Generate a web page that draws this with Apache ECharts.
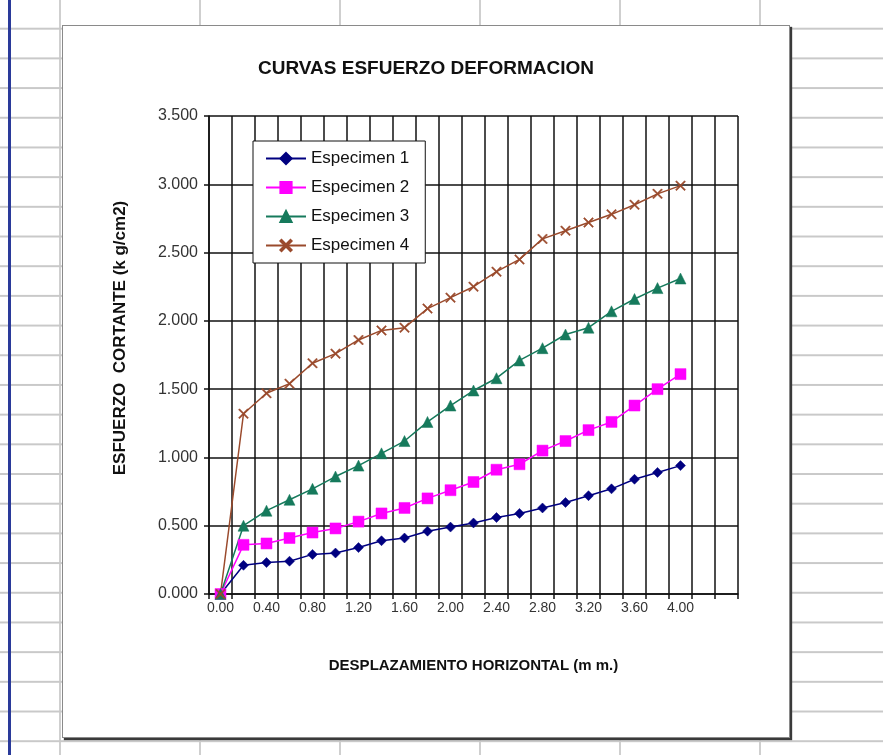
<!DOCTYPE html>
<html>
<head>
<meta charset="utf-8">
<script src="https://cdn.jsdelivr.net/npm/echarts@6/dist/echarts.min.js"></script>
<style>
  html, body { margin: 0; padding: 0; }
  body {
    width: 883px; height: 755px; position: relative; overflow: hidden;
    background-color: #fff;
    background-image:
      repeating-linear-gradient(to bottom, transparent 0px, transparent 28px, #c9c9c9 28px, #c9c9c9 30px),
      repeating-linear-gradient(to right, #cfcfcf 0px, #cfcfcf 2px, transparent 2px, transparent 140px);
    background-size: 883px 29.7px, 140px 755px;
    background-position: 0 0, 59px 0;
  }
  #bar { position: absolute; left: 8px; top: 0; width: 3px; height: 755px; background: #2a3a9a; }
  #chart {
    position: absolute; left: 62px; top: 25px; width: 728px; height: 713px;
    background: #fff; border: 1px solid #8a8a8a; box-sizing: border-box;
    box-shadow: 2px 2px 1px #3a3a3a;
  }
</style>
</head>
<body>
<div id="bar"></div>
<div id="chart"></div>
<script>
// Horizontal displacement (mm); the two trailing blank slots leave room past 4.00
const desplazamiento = ['0.00','0.20','0.40','0.60','0.80','1.00','1.20','1.40','1.60','1.80','2.00',
  '2.20','2.40','2.60','2.80','3.00','3.20','3.40','3.60','3.80','4.00','',' '];

// Shear stress (kg/cm2) for each specimen
const especimen1 = [0, 0.21, 0.23, 0.24, 0.29, 0.30, 0.34, 0.39, 0.41, 0.46, 0.49, 0.52, 0.56, 0.59, 0.63, 0.67, 0.72, 0.77, 0.84, 0.89, 0.94];
const especimen2 = [0, 0.36, 0.37, 0.41, 0.45, 0.48, 0.53, 0.59, 0.63, 0.70, 0.76, 0.82, 0.91, 0.95, 1.05, 1.12, 1.20, 1.26, 1.38, 1.50, 1.61];
const especimen3 = [0, 0.50, 0.61, 0.69, 0.77, 0.86, 0.94, 1.03, 1.12, 1.26, 1.38, 1.49, 1.58, 1.71, 1.80, 1.90, 1.95, 2.07, 2.16, 2.24, 2.31];
const especimen4 = [0, 1.32, 1.47, 1.54, 1.69, 1.76, 1.86, 1.93, 1.95, 2.09, 2.17, 2.25, 2.36, 2.45, 2.60, 2.66, 2.72, 2.78, 2.85, 2.93, 2.99];

const seriesNames = ['Especimen 1', 'Especimen 2', 'Especimen 3', 'Especimen 4'];

const FONT = "'Liberation Sans', Arial, sans-serif";
const crossPath = 'path://M0,1 L1,0 L5,4 L9,0 L10,1 L6,5 L10,9 L9,10 L5,6 L1,10 L0,9 L4,5 Z';

function lineSeries(name, data, color, symbol, size) {
  return {
    name: name, type: 'line', data: data,
    symbol: symbol, symbolSize: size, showSymbol: true,
    lineStyle: { color: color, width: 1.5 },
    itemStyle: { color: color, borderColor: color, borderWidth: 0.5 },
    emphasis: { disabled: true },
    animation: false
  };
}

const chart = echarts.init(document.getElementById('chart'), null, { renderer: 'canvas' });
chart.setOption({
  backgroundColor: 'transparent',
  animation: false,
  textStyle: { fontFamily: FONT },
  title: {
    text: 'CURVAS ESFUERZO DEFORMACION',
    left: 'center', top: 33, padding: 0,
    textStyle: { fontFamily: FONT, fontSize: 19, fontWeight: 'bold', color: '#111' }
  },
  legend: {
    data: seriesNames,
    orient: 'vertical',
    left: 190, top: 115,
    padding: [9, 16, 9, 12],
    itemGap: 12, itemWidth: 40, itemHeight: 14,
    backgroundColor: '#fff', borderColor: '#111', borderWidth: 1, borderRadius: 0,
    textStyle: { fontFamily: FONT, fontSize: 17, color: '#111' }
  },
  grid: { left: 146, top: 90, width: 529, height: 478, containLabel: false },
  xAxis: {
    type: 'category',
    data: desplazamiento,
    boundaryGap: true,
    name: 'DESPLAZAMIENTO HORIZONTAL (m m.)',
    nameLocation: 'middle', nameGap: 64,
    nameTextStyle: { fontFamily: FONT, fontSize: 15, fontWeight: 'bold', color: '#111' },
    axisLine: { lineStyle: { color: '#111', width: 1.5 } },
    axisTick: { show: true, interval: 0, length: 5, inside: false, lineStyle: { color: '#111', width: 1.5 } },
    axisLabel: { interval: 1, fontSize: 14, color: '#333', margin: 7 },
    splitLine: { show: true, interval: 0, lineStyle: { color: '#111', width: 1.5 } }
  },
  yAxis: {
    type: 'value',
    min: 0, max: 3.5, interval: 0.5,
    name: 'ESFUERZO  CORTANTE (k g/cm2)',
    nameLocation: 'middle', nameGap: 80, nameRotate: 90,
    nameTextStyle: { fontFamily: FONT, fontSize: 17, fontWeight: 'bold', color: '#111', padding: [0, 0, 0, 34] },
    axisLine: { show: true, lineStyle: { color: '#111', width: 1.5 } },
    axisTick: { show: true, length: 5, inside: false, lineStyle: { color: '#111', width: 1.5 } },
    axisLabel: { fontSize: 16, color: '#333', margin: 11, formatter: v => v.toFixed(3) },
    splitLine: { show: true, lineStyle: { color: '#111', width: 1.5 } }
  },
  series: [
    lineSeries(seriesNames[0], especimen1, '#000080', 'diamond', 10),
    lineSeries(seriesNames[1], especimen2, '#ff00ff', 'rect', 11),
    lineSeries(seriesNames[2], especimen3, '#167a5c', 'triangle', 11),
    lineSeries(seriesNames[3], especimen4, '#9a4a2c', crossPath, 10)
  ]
});
</script>
</body>
</html>
